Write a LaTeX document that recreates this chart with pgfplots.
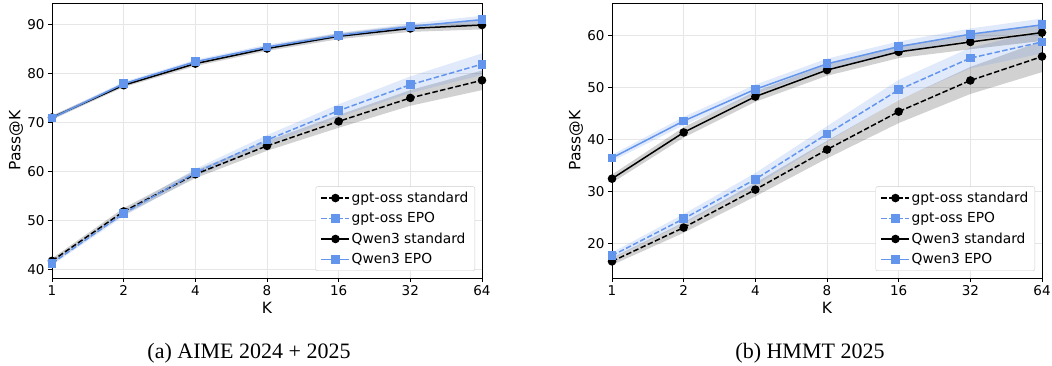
\documentclass[border=0pt]{standalone}
\usepackage{fontspec}
\setmainfont{DejaVu Sans}
\newfontfamily\capfont{Liberation Serif}
\usepackage{pgfplots}
\pgfplotsset{compat=1.18}
\usepackage{pgfplotstable}
\usepgfplotslibrary{fillbetween}

\definecolor{cblue}{RGB}{100,149,237}
\definecolor{gridc}{RGB}{230,230,230}
\definecolor{legc}{RGB}{204,204,204}

% Left: AIME 2024 + 2025
\pgfplotstableread{
x y lo hi
0 41.7 41.2 42.2
1 51.8 51.1 52.5
2 59.4 58.6 60.2
3 65.2 64.2 66.2
4 70.2 68.9 71.5
5 75.0 73.4 76.6
6 78.6 76.6 80.6
}\LGs
\pgfplotstableread{
x y lo hi
0 41.2 40.8 41.6
1 51.4 50.8 52.0
2 59.7 58.9 60.5
3 66.4 65.4 67.4
4 72.4 71.1 73.7
5 77.7 76.0 79.4
6 81.9 79.7 84.1
}\LGe
\pgfplotstableread{
x y lo hi
0 71.0 70.6 71.4
1 77.6 77.2 78.0
2 82.0 81.5 82.5
3 85.1 84.6 85.6
4 87.6 87.0 88.2
5 89.2 88.5 89.9
6 89.9 89.0 90.8
}\LQs
\pgfplotstableread{
x y lo hi
0 70.9 70.5 71.3
1 77.9 77.5 78.3
2 82.4 82.0 82.8
3 85.4 84.9 85.9
4 87.8 87.3 88.3
5 89.6 89.0 90.2
6 91.0 90.2 91.8
}\LQe
% Right: HMMT 2025
\pgfplotstableread{
x y lo hi
0 16.6 15.9 17.3
1 23.1 22.1 24.1
2 30.4 29.1 31.7
3 38.1 36.4 39.8
4 45.4 43.2 47.6
5 51.4 48.8 54.0
6 56.0 53.0 59.0
}\RGs
\pgfplotstableread{
x y lo hi
0 17.7 17.1 18.3
1 24.8 23.9 25.7
2 32.4 31.2 33.6
3 41.1 39.6 42.6
4 49.6 47.7 51.5
5 55.7 53.7 57.7
6 58.8 56.6 61.0
}\RGe
\pgfplotstableread{
x y lo hi
0 32.5 31.7 33.3
1 41.4 40.4 42.4
2 48.3 47.3 49.3
3 53.4 52.3 54.5
4 56.9 55.7 58.1
5 58.8 57.4 60.2
6 60.6 59.0 62.2
}\RQs
\pgfplotstableread{
x y lo hi
0 36.5 35.9 37.1
1 43.6 42.8 44.4
2 49.7 48.8 50.6
3 54.6 53.6 55.6
4 57.9 56.9 58.9
5 60.3 59.2 61.4
6 62.1 60.9 63.3
}\RQe

\newcommand{\band}[4]{%
  \addplot[draw=none, forget plot, name path=#4lo] table[x=x,y=lo]{#1};
  \addplot[draw=none, forget plot, name path=#4hi] table[x=x,y=hi]{#1};
  \addplot[fill=#2, fill opacity=#3, draw=none, forget plot] fill between[of=#4lo and #4hi];
}

\pgfplotsset{
  myaxis/.style={
    scale only axis, width=430bp, height=275bp,
    xmin=0, xmax=6, xtick={0,...,6}, xticklabels={1,2,4,8,16,32,64},
    xtick pos=left, ytick pos=left,
    tick align=outside, major tick length=4bp,
    tick style={black, line width=0.8bp},
    axis line style={line width=0.8bp},
    grid=major, major grid style={gridc, line width=0.8bp},
    /pgf/number format/assume math mode=true,
    tick label style={font=\fontsize{13.5bp}{16bp}\selectfont},
    label style={font=\fontsize{15.5bp}{18bp}\selectfont},
    xlabel={K}, ylabel={Pass@K}, ylabel shift=-2.5bp,
    legend style={at={(1,0)}, anchor=south east, xshift=-7bp, yshift=7bp,
      draw=legc, rounded corners=2bp,
      font=\fontsize{13.8bp}{16bp}\selectfont, row sep=4.6bp,
      inner xsep=5bp, inner ysep=3.5bp,
      nodes={inner xsep=1.5bp, inner ysep=2bp},
      /tikz/every even column/.append style={column sep=13bp}},
    legend cell align=left,
    legend image code/.code={\draw[line width=1.5bp, mark repeat=2,mark phase=2] plot coordinates {(0bp,0bp) (14bp,0bp) (28bp,0bp)};},
  },
  gstd/.style={black, line width=1.5bp, dash pattern=on 5.5bp off 2.4bp, mark=*, mark size=3.5bp, mark options={solid}},
  gepo/.style={cblue, line width=1.5bp, dash pattern=on 5.5bp off 2.4bp, mark=square*, mark size=3.6bp, mark options={solid}},
  qstd/.style={black, line width=1.5bp, solid, mark=*, mark size=3.5bp},
  qepo/.style={cblue, line width=1.5bp, solid, mark=square*, mark size=3.6bp},
}

\begin{document}
\begin{tikzpicture}
\begin{axis}[myaxis, at={(0,0)}, anchor=south west,
  ymin=38.2, ymax=94.4, ytick={40,50,60,70,80,90}]
  \band{\LGs}{black}{0.18}{a}
  \addplot[gstd] table[x=x,y=y]{\LGs};
  \addlegendentry{gpt-oss standard}
  \band{\LGe}{cblue}{0.2}{b}
  \addplot[gepo] table[x=x,y=y]{\LGe};
  \addlegendentry{gpt-oss EPO}
  \band{\LQs}{black}{0.18}{c}
  \addplot[qstd] table[x=x,y=y]{\LQs};
  \addlegendentry{Qwen3 standard}
  \band{\LQe}{cblue}{0.2}{d}
  \addplot[qepo] table[x=x,y=y]{\LQe};
  \addlegendentry{Qwen3 EPO}
\end{axis}
\begin{axis}[myaxis, at={(560bp,0)}, anchor=south west,
  ymin=13.4, ymax=66.3, ytick={20,30,40,50,60}]
  \band{\RGs}{black}{0.18}{e}
  \addplot[gstd] table[x=x,y=y]{\RGs};
  \addlegendentry{gpt-oss standard}
  \band{\RGe}{cblue}{0.2}{f}
  \addplot[gepo] table[x=x,y=y]{\RGe};
  \addlegendentry{gpt-oss EPO}
  \band{\RQs}{black}{0.18}{g}
  \addplot[qstd] table[x=x,y=y]{\RQs};
  \addlegendentry{Qwen3 standard}
  \band{\RQe}{cblue}{0.2}{h}
  \addplot[qepo] table[x=x,y=y]{\RQe};
  \addlegendentry{Qwen3 EPO}
\end{axis}
\node[anchor=base, font=\capfont\fontsize{22bp}{26bp}\selectfont] at (197bp,-80bp) {(a) AIME 2024 + 2025};
\node[anchor=base, font=\capfont\fontsize{22bp}{26bp}\selectfont] at (758bp,-80bp) {(b) HMMT 2025};
\pgfresetboundingbox
\path[use as bounding box] (-52bp,-88bp) rectangle (1000bp,278bp);
\end{tikzpicture}
\end{document}
